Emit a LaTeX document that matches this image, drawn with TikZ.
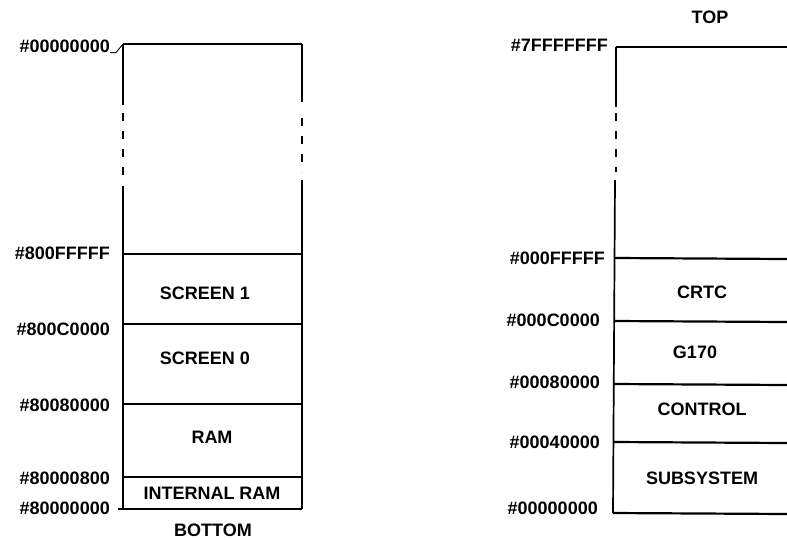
\documentclass[tikz,border=0pt]{standalone}
\usepackage{fontspec}
\setmainfont{Liberation Sans}
\begin{document}
\begin{tikzpicture}[x=1pt,y=-1pt,
  hline/.style={line width=2.2pt},
  vline/.style={line width=1.7pt},
  dline/.style={line width=1.7pt,dash pattern=on 8pt off 10pt},
  addr/.style={anchor=east,inner sep=0pt,font=\fontsize{18}{18}\selectfont\bfseries},
  seg/.style={inner sep=0pt,font=\fontsize{18}{18}\selectfont\bfseries}]
\useasboundingbox (0,0) rectangle (787,539);
% ---------- left map ----------
\coordinate (LTL) at (123,44);
\coordinate (LTR) at (302,44);
\draw[hline] (LTL) -- (LTR);
\draw[vline] (123,44) -- (123,105);
\draw[dline] (123,113) -- (123,180);
\draw[vline] (123,186) -- (123,509);
\draw[vline] (302,44) -- (302,102);
\draw[dline] (302,118) -- (302,172);
\draw[vline] (302,180) -- (302,509);
\draw[hline] (123,254) -- (302,254);
\draw[hline] (123,324) -- (302,324);
\draw[hline] (123,404) -- (302,404);
\draw[hline] (123,477) -- (302,477);
\draw[hline] (118,509) -- (302,509);
\node[addr] (a1) at (110,46) {\#00000000};
\draw[line width=0.9pt] (a1.south east) -- ++(6,0) -- (LTL);
\node[addr] (a2) at (110,253) {\#800FFFFF};
\node[addr] (a3) at (110,329) {\#800C0000};
\node[addr] (a4) at (110,405) {\#80080000};
\node[addr] (a5) at (110,478) {\#80000800};
\node[addr] (a6) at (110,508) {\#80000000};
\node[seg] (s1) at (205,293) {SCREEN 1};
\node[seg] (s2) at (205,358) {SCREEN 0};
\node[seg] (s3) at (212,437) {RAM};
\node[seg] (s4) at (212,493) {INTERNAL RAM};
\node[seg] (bot) at (213,530) {BOTTOM};
% ---------- right map ----------
\draw[hline] (616,47) -- (787,47);
\draw[vline] (616,47) -- (616,107);
\draw[dline] (616,113) -- (616,172);
\draw[vline] (615,180) -- (613,513);
\draw[hline] (615,258) -- (787,259);
\draw[hline] (615,321) -- (787,322);
\draw[hline] (614,384) -- (787,385);
\draw[hline] (614,442) -- (787,443);
\draw[hline] (613,513) -- (787,514);
\node[seg] (top) at (710,17) {TOP};
\node[addr] (b1) at (608,45) {\#7FFFFFFF};
\node[addr] (b2) at (605,258) {\#000FFFFF};
\node[addr] (b3) at (600,320) {\#000C0000};
\node[addr] (b4) at (600,382) {\#00080000};
\node[addr] (b5) at (600,442) {\#00040000};
\node[addr] (b6) at (598,508) {\#00000000};
\node[seg] (c1) at (702,292) {CRTC};
\node[seg] (c2) at (695,352) {G170};
\node[seg] (c3) at (702,409) {CONTROL};
\node[seg] (c4) at (702,478) {SUBSYSTEM};
\end{tikzpicture}
\end{document}
